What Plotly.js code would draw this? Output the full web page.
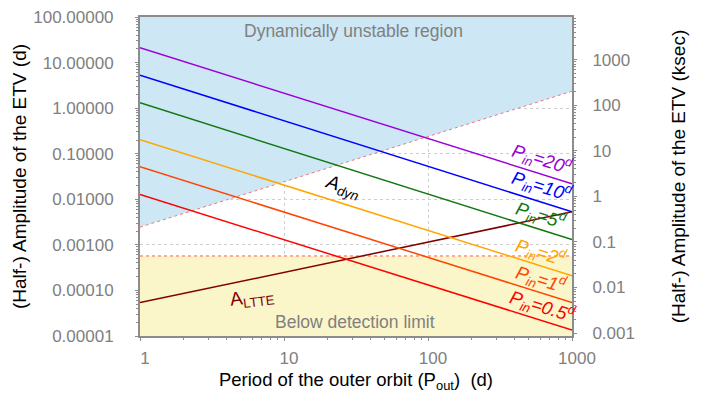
<!DOCTYPE html>
<html>
<head>
<meta charset="utf-8">
<script src="https://cdn.plot.ly/plotly-3.0.1.min.js"></script>
<style>html,body{margin:0;padding:0;background:#fff}#chart{width:708px;height:413px}</style>
</head>
<body>
<div id="chart"></div>
<script>
// ---- data ----
const periodOut = [1, 1000];                       // outer period (d), line end points
const pinLabels = ['20', '10', '5', '2', '1', '0.5'];
const pinColors = ['#9b00d6', '#0000ff', '#117711', '#ffa500', '#ff4500', '#ff0000'];
const adynAtP1 = [21.1, 5.28, 1.31, 0.203, 0.0516, 0.0127];        // A_dyn (d) at Pout = 1 d
const adynAtP1000 = [0.0218, 0.0053, 0.0013, 0.00021, 0.000054, 0.0000135]; // at Pout = 1000 d
const unstableEdge = [0.00245, 2.35];              // stability limit at Pout = 1, 1000
const detectionLimit = [0.00057, 0.00057];         // detection limit (d)
const altte = [0.000054, 0.0053];                  // A_LTTE at Pout = 1, 1000
const yTicksDay = [0.00001, 0.0001, 0.001, 0.01, 0.1, 1, 10, 100];
const yTicksKsec = [0.001, 0.01, 0.1, 1, 10, 100, 1000];
const xTicks = [1, 10, 100, 1000];
const dayToKsec = 86.4;

const yMin = 1e-5, yMax = 100;

const traces = [];
traces.push({
  x: [periodOut[0], periodOut[1], periodOut[1], periodOut[0]],
  y: [unstableEdge[0], unstableEdge[1], yMax, yMax],
  fill: 'toself', fillcolor: 'rgb(205,231,245)', mode: 'lines', line: {width: 0},
  hoverinfo: 'skip', showlegend: false
});
traces.push({
  x: [periodOut[0], periodOut[1], periodOut[1], periodOut[0]],
  y: [yMin, yMin, detectionLimit[1], detectionLimit[0]],
  fill: 'toself', fillcolor: 'rgb(250,246,202)', mode: 'lines', line: {width: 0},
  hoverinfo: 'skip', showlegend: false
});
traces.push({x: periodOut, y: unstableEdge, mode: 'lines',
  line: {color: 'rgb(240,120,130)', width: 1, dash: 'dot'}, showlegend: false, hoverinfo: 'skip'});
traces.push({x: periodOut, y: detectionLimit, mode: 'lines',
  line: {color: 'rgb(255,90,90)', width: 1, dash: 'dot'}, showlegend: false, hoverinfo: 'skip'});
traces.push({x: periodOut, y: altte, mode: 'lines',
  line: {color: '#800000', width: 1.5}, showlegend: false});
for (let i = 0; i < pinLabels.length; i++) {
  traces.push({x: periodOut, y: [adynAtP1[i], adynAtP1000[i]], mode: 'lines',
    line: {color: pinColors[i], width: 1.5}, name: 'P_in=' + pinLabels[i], showlegend: false});
}
traces.push({x: periodOut, y: [1, 1], yaxis: 'y2', mode: 'lines', line: {width: 0},
  opacity: 0, hoverinfo: 'skip', showlegend: false});

function minorVals(lo, hi) {
  const v = [];
  for (let e = lo; e < hi; e++) for (let m = 2; m <= 9; m++) v.push(m * Math.pow(10, e));
  return v;
}

const FAM = 'Liberation Sans, Arial, sans-serif';
const tickFont = {family: FAM, size: 17, color: 'rgb(128,128,128)'};
const axisLine = 'rgb(140,140,140)';

const pinPos = [[0.931, 0.552], [0.931, 0.470], [0.928, 0.377], [0.928, 0.263], [0.928, 0.176], [0.931, 0.094]];
function ann(x, y, text, size, color, angle) {
  return {xref: 'paper', yref: 'paper', x: x, y: y, xanchor: 'center', yanchor: 'middle',
    text: text, textangle: angle || 0, showarrow: false, font: {family: FAM, size: size, color: color}};
}
const annotations = [
  ann(0.494, 0.956, 'Dynamically unstable region', 17.5, 'rgb(128,128,128)'),
  ann(0.498, 0.044, 'Below detection limit', 17.5, 'rgb(128,128,128)'),
  ann(0.468, 0.467, '<i>A<sub>dyn</sub></i>', 19, '#000', 17),
  ann(0.259, 0.119, 'A<sub>LTTE</sub>', 19, '#800000', -7)
];
for (let i = 0; i < pinLabels.length; i++) {
  annotations.push(ann(pinPos[i][0], pinPos[i][1],
    '<i>P<sub>in</sub>=' + pinLabels[i] + '<sup>d</sup></i>', 18.5, pinColors[i], 17.5));
}

const layout = {
  width: 708, height: 413,
  margin: {l: 140, r: 136, t: 17, b: 77, pad: 0},
  paper_bgcolor: '#fff', plot_bgcolor: '#fff',
  showlegend: false,
  xaxis: {
    type: 'log', range: [0, 3], tickmode: 'array', tickvals: xTicks, ticktext: xTicks.map(String),
    tickfont: tickFont, ticks: 'outside', ticklen: 3, tickcolor: axisLine,
    ticklabelshift: 5, ticklabelstandoff: 3,
    minor: {tickmode: 'array', tickvals: minorVals(0, 3), ticks: 'outside', ticklen: 2, tickcolor: axisLine, showgrid: false},
    showline: true, linecolor: axisLine, linewidth: 2, mirror: true,
    showgrid: true, gridcolor: 'rgb(205,205,205)', griddash: 'dot', gridwidth: 1,
    zeroline: false, automargin: false,
    title: {text: 'Period of the outer orbit (P<sub>out</sub>)  (d)', font: {family: FAM, size: 18.5, color: '#000'}, standoff: 6}
  },
  yaxis: {
    type: 'log', range: [Math.log10(yMin), Math.log10(yMax)], tickmode: 'array', tickvals: yTicksDay,
    tickformat: '.5f',
    tickfont: tickFont, ticks: 'outside', ticklen: 3, tickcolor: axisLine,
    ticklabelstandoff: 18,
    minor: {tickmode: 'array', tickvals: minorVals(-5, 2), ticks: 'outside', ticklen: 2, tickcolor: axisLine, showgrid: false},
    showline: true, linecolor: axisLine, linewidth: 2,
    showgrid: true, gridcolor: 'rgb(205,205,205)', griddash: 'dot', gridwidth: 1,
    zeroline: false, automargin: false,
    title: {text: '(Half-) Amplitude of the ETV (d)', font: {family: FAM, size: 19, color: '#000'}, standoff: 2}
  },
  yaxis2: {
    type: 'log', overlaying: 'y', side: 'right',
    range: [Math.log10(yMin * dayToKsec), Math.log10(yMax * dayToKsec)],
    tickmode: 'array', tickvals: yTicksKsec, ticktext: yTicksKsec.map(String),
    tickfont: tickFont, ticks: 'outside', ticklen: 3, tickcolor: axisLine,
    ticklabelstandoff: 12,
    minor: {tickmode: 'array', tickvals: minorVals(-3, 4), ticks: 'outside', ticklen: 2, tickcolor: axisLine, showgrid: false},
    showline: true, linecolor: axisLine, linewidth: 2,
    showgrid: false, zeroline: false, automargin: false,
    title: {text: '(Half-) Amplitude of the ETV (ksec)', font: {family: FAM, size: 19, color: '#000'}, standoff: 38}
  },
  annotations: annotations
};

Plotly.newPlot('chart', traces, layout, {displayModeBar: false, staticPlot: true});
</script>
</body>
</html>
